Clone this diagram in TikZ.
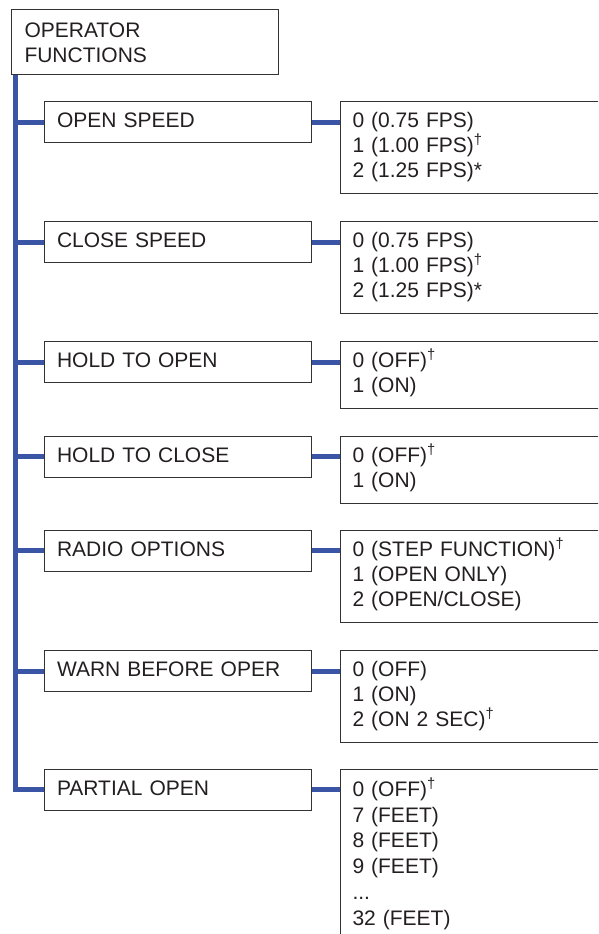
\documentclass[tikz,border=0pt]{standalone}
\usepackage{fontspec}
\setmainfont{Liberation Sans}
\usepackage{tikz}
\usepackage{xcolor}
\usetikzlibrary{positioning}
\definecolor{Menu_Blue}{HTML}{3A55A5}
\definecolor{Menu_Frame}{HTML}{333333}
\definecolor{Menu_Text}{HTML}{231F20}

\newcommand{\dg}{\textsuperscript{\textdagger}}

\begin{document}
\begin{tikzpicture}[x=1pt, y=-1pt,
    every node/.style={font=\fontsize{21}{25}\selectfont, text=Menu_Text},
    menubox/.style={draw=Menu_Frame, line width=1pt, anchor=north west, inner ysep=0pt, align=left},
    headbox/.style={menubox, inner xsep=13pt, text width=241pt,
        execute at begin node=\rule{0pt}{28pt}, execute at end node=\rule[-12pt]{0pt}{12pt}},
    itembox/.style={menubox, inner xsep=12.5pt, text width=242pt,
        execute at begin node=\rule{0pt}{26pt}, execute at end node=\rule[-15pt]{0pt}{15pt}},
    valuebox/.style={menubox, inner xsep=12pt, text width=300pt,
        execute at begin node=\rule{0pt}{26pt}, execute at end node=\rule[-16pt]{0pt}{16pt}},
    longvaluebox/.style={valuebox, font=\fontsize{21}{25.7}\selectfont,
        execute at begin node=\rule{0pt}{27pt}},
    branch/.style={Menu_Blue, line width=5pt},
]
    % Page frame
    \useasboundingbox (0,0) rectangle (598,934);
    \clip (0,0) rectangle (598,934);

    % Menu head
    \node[headbox] (head) at (11,9) {OPERATOR\\FUNCTIONS};
    \coordinate (trunk) at ([xshift=4.2pt]head.south west);

    % Menu items
    \node[itembox] (openspeed)  at (44,101)   {OPEN SPEED};
    \node[itembox] (closespeed) at (44,221)   {CLOSE SPEED};
    \node[itembox] (holdopen)   at (44,341)   {HOLD TO OPEN};
    \node[itembox] (holdclose)  at (44,435.5) {HOLD TO CLOSE};
    \node[itembox] (radio)      at (44,529.5) {RADIO OPTIONS};
    \node[itembox] (warn)       at (44,650)   {WARN BEFORE OPER};
    \node[itembox] (partial)    at (44,768.5) {PARTIAL OPEN};

    % Setting values
    \node[valuebox] (openspeedval)  at (340,101)   {0 (0.75 FPS)\\1 (1.00 FPS)\dg\\2 (1.25 FPS)*};
    \node[valuebox] (closespeedval) at (340,221)   {0 (0.75 FPS)\\1 (1.00 FPS)\dg\\2 (1.25 FPS)*};
    \node[valuebox] (holdopenval)   at (340,341)   {0 (OFF)\dg\\1 (ON)};
    \node[valuebox] (holdcloseval)  at (340,435.5) {0 (OFF)\dg\\1 (ON)};
    \node[valuebox] (radioval)      at (340,529.5) {0 (STEP FUNCTION)\dg\\1 (OPEN ONLY)\\2 (OPEN/CLOSE)};
    \node[valuebox] (warnval)       at (340,650)   {0 (OFF)\\1 (ON)\\2 (ON 2 SEC)\dg};
    \node[longvaluebox] (partialval) at (340,769)  {0 (OFF)\dg\\7 (FEET)\\8 (FEET)\\9 (FEET)\\...\\32 (FEET)};

    % Trunk down to the last item
    \draw[branch] (trunk) |- (partial.west);

    % Trunk to items
    \draw[branch] (trunk |- openspeed.west) -- (openspeed.west);
    \draw[branch] (trunk |- closespeed.west) -- (closespeed.west);
    \draw[branch] (trunk |- holdopen.west) -- (holdopen.west);
    \draw[branch] (trunk |- holdclose.west) -- (holdclose.west);
    \draw[branch] (trunk |- radio.west) -- (radio.west);
    \draw[branch] (trunk |- warn.west) -- (warn.west);

    % Items to values
    \draw[branch] (openspeed.east) -- (openspeedval.west |- openspeed.east);
    \draw[branch] (closespeed.east) -- (closespeedval.west |- closespeed.east);
    \draw[branch] (holdopen.east) -- (holdopenval.west |- holdopen.east);
    \draw[branch] (holdclose.east) -- (holdcloseval.west |- holdclose.east);
    \draw[branch] (radio.east) -- (radioval.west |- radio.east);
    \draw[branch] (warn.east) -- (warnval.west |- warn.east);
    \draw[branch] (partial.east) -- (partialval.west |- partial.east);

\end{tikzpicture}
\end{document}
